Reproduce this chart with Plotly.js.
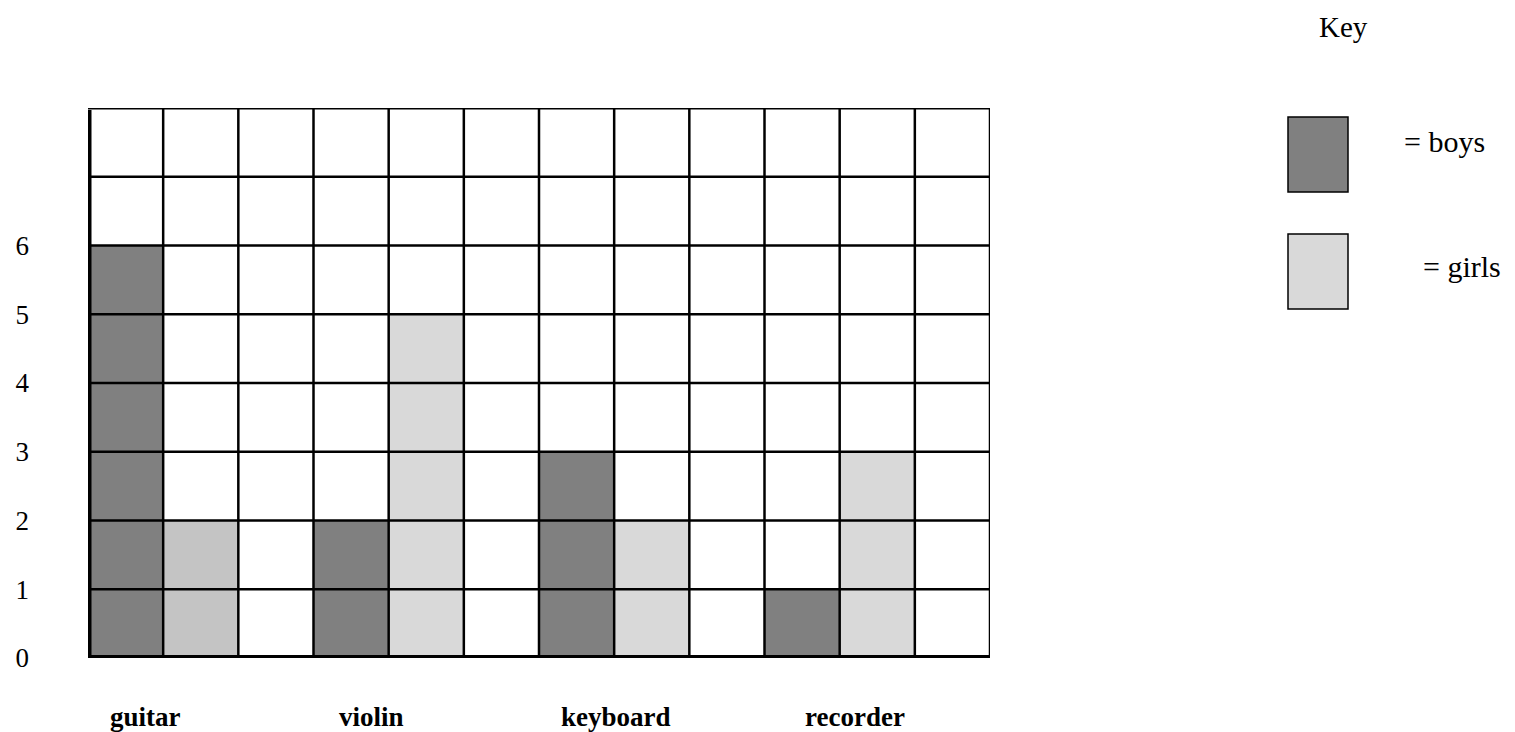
<!DOCTYPE html>
<html>
<head>
<meta charset="utf-8">
<script src="https://cdn.plot.ly/plotly-3.0.1.min.js"></script>
<style>html,body{margin:0;padding:0;background:#fff;}#chart{width:1515px;height:732px;}</style>
</head>
<body>
<div id="chart"></div>
<script>
// ---- data ----
const instruments = ["guitar", "violin", "keyboard", "recorder"];
const boys = [6, 2, 3, 1];
const girls = [2, 5, 2, 3];
const girlColors = ["#c4c4c4", "#d9d9d9", "#d9d9d9", "#d9d9d9"];
const yTickLabels = ["0", "1", "2", "3", "4", "5", "6"];

// ---- styling ----
const labelNudgePx = [0, 3, 0, 18];

const nCols = instruments.length * 3;
const nRows = 8;

const boyX = instruments.map((_, i) => i * 3 + 0.5);
const girlX = instruments.map((_, i) => i * 3 + 1.5);

const traces = [
  {type: "bar", x: boyX, y: boys, width: 1, marker: {color: "#808080", line: {width: 0}}, name: "boys", hoverinfo: "skip"},
  {type: "bar", x: girlX, y: girls, width: 1, marker: {color: girlColors, line: {width: 0}}, name: "girls", hoverinfo: "skip"}
];

const shapes = [];
// grid drawn above the bars
for (let c = 1; c <= nCols; c++) {
  shapes.push({type: "line", layer: "above", xref: "x", yref: "y", x0: c, x1: c, y0: 0, y1: nRows, line: {color: "#000", width: 2.5}});
}
for (let r = 1; r <= nRows; r++) {
  shapes.push({type: "line", layer: "above", xref: "x", yref: "y", x0: 0, x1: nCols, y0: r, y1: r, line: {color: "#000", width: r === nRows ? 3 : 2.5}});
}
// thick left and bottom axes
shapes.push({type: "line", layer: "above", xref: "x", yref: "y", x0: 0, x1: 0, y0: -0.04, y1: nRows - 0.03, xshift: -2, line: {color: "#000", width: 7}});
shapes.push({type: "line", layer: "above", xref: "x", yref: "y", x0: -0.02, x1: nCols, y0: 0, y1: 0, yshift: -1, line: {color: "#000", width: 6}});

// key squares (paper coords)
const plotL = 88, plotR = 990, plotT = 108, plotB = 658;
const px2x = p => (p - plotL) / (plotR - plotL);
const px2y = p => (plotB - p) / (plotB - plotT);
shapes.push({type: "rect", xref: "paper", yref: "paper", x0: px2x(1288), x1: px2x(1348), y0: px2y(192), y1: px2y(117), fillcolor: "#808080", line: {color: "#000", width: 1.5}});
shapes.push({type: "rect", xref: "paper", yref: "paper", x0: px2x(1288), x1: px2x(1348), y0: px2y(309), y1: px2y(234), fillcolor: "#d9d9d9", line: {color: "#000", width: 1.5}});

const serif = "Liberation Serif, Times New Roman, serif";
const annotations = [
  {xref: "paper", yref: "paper", x: px2x(1343), y: px2y(27), text: "Key", showarrow: false, xanchor: "center", yanchor: "middle", font: {family: serif, size: 29, color: "#000"}},
  {xref: "paper", yref: "paper", x: px2x(1402), y: px2y(141), text: "= boys", showarrow: false, xanchor: "left", yanchor: "middle", font: {family: serif, size: 30, color: "#000"}},
  {xref: "paper", yref: "paper", x: px2x(1421), y: px2y(266), text: "= girls", showarrow: false, xanchor: "left", yanchor: "middle", font: {family: serif, size: 30, color: "#000"}}
];
instruments.forEach((name, i) => {
  annotations.push({xref: "x", yref: "paper", x: i * 3 + 0.27, xshift: labelNudgePx[i], y: px2y(717), text: "<b>" + name + "</b>", showarrow: false, xanchor: "left", yanchor: "middle", font: {family: serif, size: 27, color: "#000"}});
});

const layout = {
  width: 1515, height: 732,
  margin: {l: plotL, r: 1515 - plotR, t: plotT, b: 732 - plotB, pad: 0},
  paper_bgcolor: "#fff", plot_bgcolor: "#fff",
  showlegend: false,
  barmode: "overlay",
  xaxis: {range: [0, nCols], showgrid: false, zeroline: false, showline: false, showticklabels: false, ticks: "", fixedrange: true},
  yaxis: {range: [0, nRows], showgrid: false, zeroline: false, showline: false,
          tickvals: yTickLabels.map((_, i) => i), ticktext: yTickLabels, ticks: "",
          ticklabelstandoff: 58, tickfont: {family: serif, size: 27, color: "#000"}, fixedrange: true},
  shapes: shapes,
  annotations: annotations
};

Plotly.newPlot("chart", traces, layout, {displayModeBar: false, staticPlot: true});
</script>
</body>
</html>
